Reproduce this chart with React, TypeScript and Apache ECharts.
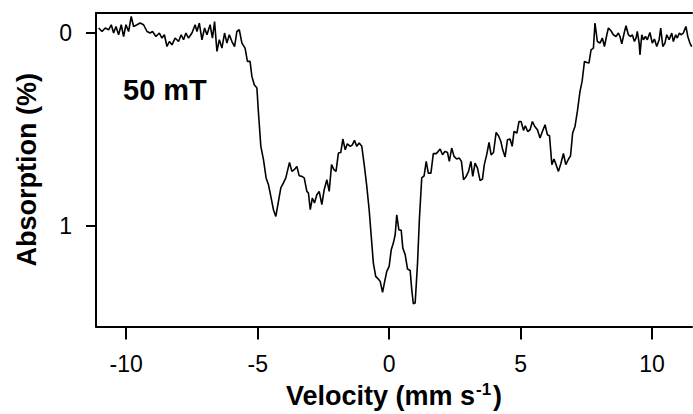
import React, { useEffect, useRef } from "react";
import * as echarts from "echarts";

// Doppler velocity (mm/s)
const velocity = [
  -11.05, -10.92, -10.8, -10.67, -10.57, -10.48, -10.39, -10.29, -10.19, -10.1,
  -10.01, -9.91, -9.81, -9.72, -9.59, -9.47, -9.34, -9.21, -9.09, -9.0,
  -8.87, -8.74, -8.64, -8.55, -8.45, -8.36, -8.26, -8.14, -8.01, -7.91,
  -7.82, -7.73, -7.63, -7.5, -7.38, -7.31, -7.22, -7.12, -7.02, -6.93,
  -6.81, -6.72, -6.64, -6.55, -6.46, -6.36, -6.26, -6.17, -6.08, -5.98,
  -5.88, -5.79, -5.7, -5.6, -5.48, -5.39, -5.29, -5.22, -5.13, -5.03,
  -4.97, -4.88, -4.78, -4.68, -4.59, -4.5, -4.4, -4.31, -4.21, -4.12,
  -4.02, -3.93, -3.79, -3.7, -3.61, -3.51, -3.42, -3.32, -3.23, -3.13,
  -3.07, -3.0, -2.92, -2.84, -2.75, -2.66, -2.56, -2.47, -2.37, -2.28,
  -2.19, -2.1, -2.02, -1.93, -1.84, -1.76, -1.67, -1.59, -1.48, -1.4,
  -1.32, -1.23, -1.14, -1.04, -0.94, -0.85, -0.76, -0.68, -0.6, -0.51,
  -0.41, -0.34, -0.25, -0.18, -0.09, 0.0, 0.08, 0.16, 0.23, 0.29,
  0.37, 0.46, 0.52, 0.61, 0.7, 0.8, 0.86, 0.92, 0.99, 1.08,
  1.15, 1.24, 1.33, 1.41, 1.49, 1.59, 1.68, 1.79, 1.87, 1.94,
  2.03, 2.13, 2.22, 2.29, 2.38, 2.47, 2.57, 2.67, 2.75, 2.83,
  2.93, 3.02, 3.11, 3.18, 3.27, 3.36, 3.46, 3.55, 3.62, 3.71,
  3.8, 3.88, 3.97, 4.07, 4.16, 4.25, 4.32, 4.41, 4.5, 4.6,
  4.68, 4.75, 4.86, 4.94, 5.02, 5.11, 5.18, 5.27, 5.36, 5.45,
  5.54, 5.64, 5.74, 5.83, 5.93, 6.02, 6.1, 6.19, 6.27, 6.35,
  6.44, 6.53, 6.63, 6.72, 6.82, 6.9, 6.98, 7.07, 7.16, 7.26,
  7.34, 7.43, 7.52, 7.6, 7.68, 7.77, 7.83, 7.92, 8.02, 8.11,
  8.19, 8.28, 8.34, 8.43, 8.53, 8.63, 8.72, 8.78, 8.85, 8.94,
  9.01, 9.1, 9.19, 9.25, 9.33, 9.39, 9.44, 9.51, 9.54, 9.61,
  9.67, 9.75, 9.82, 9.92, 10.01, 10.09, 10.18, 10.27, 10.33, 10.41,
  10.49, 10.56, 10.65, 10.75, 10.81, 10.9, 10.96, 11.04, 11.1, 11.19,
  11.29, 11.36, 11.44, 11.51,
];

// Absorption (%)
const absorption = [
  -0.026, -0.008, -0.026, -0.017, -0.043, 0.0, -0.034, 0.009, -0.043, 0.018,
  -0.043, -0.008, -0.086, -0.034, -0.043, -0.052, -0.043, -0.008, 0.0, -0.008,
  0.018, 0.0, 0.026, 0.009, 0.07, 0.044, 0.061, 0.026, 0.044, 0.009,
  0.035, 0.0, 0.026, 0.0, -0.043, -0.008, -0.052, 0.035, -0.026, 0.009,
  -0.043, 0.026, -0.06, 0.095, 0.035, 0.078, 0.0, 0.052, 0.009, 0.044,
  0.07, -0.008, -0.017, 0.052, 0.078, 0.147, 0.147, 0.225, 0.268, 0.285,
  0.415, 0.588, 0.657, 0.752, 0.787, 0.848, 0.917, 0.952, 0.874, 0.804,
  0.778, 0.752, 0.671, 0.718, 0.709, 0.692, 0.741, 0.744, 0.752, 0.822,
  0.83, 0.917, 0.856, 0.882, 0.839, 0.822, 0.89, 0.813, 0.761, 0.822,
  0.683, 0.709, 0.718, 0.623, 0.62, 0.55, 0.606, 0.575, 0.588, 0.58,
  0.557, 0.588, 0.571, 0.588, 0.692, 0.796, 0.917, 1.056, 1.194, 1.263,
  1.277, 1.289, 1.346, 1.297, 1.237, 1.211, 1.125, 1.09, 1.047, 0.943,
  1.021, 1.024, 1.116, 1.15, 1.225, 1.232, 1.332, 1.405, 1.401, 1.194,
  0.969, 0.752, 0.741, 0.666, 0.727, 0.727, 0.626, 0.626, 0.614, 0.602,
  0.632, 0.614, 0.62, 0.666, 0.597, 0.64, 0.654, 0.649, 0.666, 0.761,
  0.744, 0.718, 0.666, 0.744, 0.675, 0.701, 0.766, 0.758, 0.683, 0.632,
  0.568, 0.632, 0.62, 0.516, 0.533, 0.563, 0.606, 0.643, 0.554, 0.55,
  0.588, 0.511, 0.519, 0.459, 0.459, 0.505, 0.481, 0.511, 0.502, 0.459,
  0.485, 0.502, 0.545, 0.511, 0.476, 0.528, 0.533, 0.683, 0.654, 0.683,
  0.718, 0.678, 0.625, 0.683, 0.655, 0.637, 0.519, 0.485, 0.407, 0.303,
  0.251, 0.147, 0.153, 0.156, 0.087, 0.078, -0.052, 0.044, 0.052, 0.026,
  0.07, 0.009, -0.026, -0.013, 0.009, 0.018, 0.0, 0.018, 0.056, 0.0,
  -0.038, 0.009, 0.018, 0.009, 0.044, 0.026, -0.008, 0.052, 0.113, 0.009,
  0.035, 0.018, 0.035, -0.003, 0.052, 0.031, 0.07, 0.035, -0.026, 0.07,
  0.052, 0.009, 0.035, 0.0, 0.044, 0.009, 0.026, 0.0, 0.009, 0.0,
  -0.034, 0.018, 0.052, 0.07,
];

const xTicks = [-10, -5, 0, 5, 10];
const yTicks = [0, 1];
const fieldLabel = "50 mT";

const FONT = "'Liberation Sans', Arial, Helvetica, sans-serif";

export default function App() {
  const ref = useRef<HTMLDivElement>(null);

  useEffect(() => {
    document.body.style.margin = "0";
    document.body.style.overflow = "hidden";
    document.documentElement.style.overflow = "hidden";
    if (!ref.current) return;
    const chart = echarts.init(ref.current, null, { renderer: "svg" });
    const data = velocity.map((v, i) => [v, absorption[i]]);

    chart.setOption({
      animation: false,
      backgroundColor: "#ffffff",
      grid: { left: 96, right: 1, top: 13, bottom: 87, containLabel: false },
      xAxis: [
        {
          type: "value",
          min: -11.15,
          max: 11.52,
          position: "bottom",
          axisLine: { show: true, onZero: false, lineStyle: { color: "#000", width: 2 } },
          axisTick: {
            show: true,
            inside: false,
            length: 13,
            customValues: xTicks,
            lineStyle: { color: "#000", width: 2 },
          },
          axisLabel: {
            show: true,
            customValues: xTicks,
            margin: 26,
            color: "#000",
            fontSize: 23,
            fontFamily: FONT,
            showMinLabel: true,
            showMaxLabel: true,
          },
          splitLine: { show: false },
          name: "{a|Velocity (mm s}{sup|-1}{a|)}",
          nameLocation: "middle",
          nameGap: 54,
          nameTextStyle: {
            rich: {
              a: { fontSize: 27, fontWeight: "bold", fontFamily: FONT, color: "#000", lineHeight: 30 },
              sup: {
                fontSize: 17,
                fontWeight: "bold",
                fontFamily: FONT,
                color: "#000",
                lineHeight: 14,
                verticalAlign: "top",
                padding: [0, 2, 0, 1],
              },
            },
          },
        },
        {
          type: "value",
          min: -11.15,
          max: 11.52,
          position: "top",
          axisLine: { show: true, onZero: false, lineStyle: { color: "#000", width: 2 } },
          axisTick: { show: false },
          axisLabel: { show: false },
          splitLine: { show: false },
        },
      ],
      yAxis: {
        type: "value",
        inverse: true,
        min: -0.104,
        max: 1.523,
        axisLine: { show: true, onZero: false, lineStyle: { color: "#000", width: 2 } },
        axisTick: {
          show: true,
          inside: false,
          length: 10,
          customValues: yTicks,
          lineStyle: { color: "#000", width: 2 },
        },
        axisLabel: {
          show: true,
          customValues: yTicks,
          margin: 24,
          color: "#000",
          fontSize: 23,
          fontFamily: FONT,
        },
        splitLine: { show: false },
        name: "Absorption (%)",
        nameLocation: "middle",
        nameGap: 56,
        nameTextStyle: { fontSize: 27, fontWeight: "bold", fontFamily: FONT, color: "#000" },
      },
      graphic: [
        {
          type: "text",
          left: 123,
          top: 75,
          style: {
            text: fieldLabel,
            fontSize: 29,
            fontWeight: "bold",
            fontFamily: FONT,
            fill: "#000",
          },
        },
      ],
      series: [
        {
          type: "line",
          xAxisIndex: 0,
          data,
          showSymbol: false,
          symbol: "none",
          smooth: false,
          lineStyle: { color: "#000", width: 1.6 },
          clip: true,
        },
      ],
    });

    return () => chart.dispose();
  }, []);

  return <div ref={ref} style={{ width: 693, height: 414 }} />;
}
